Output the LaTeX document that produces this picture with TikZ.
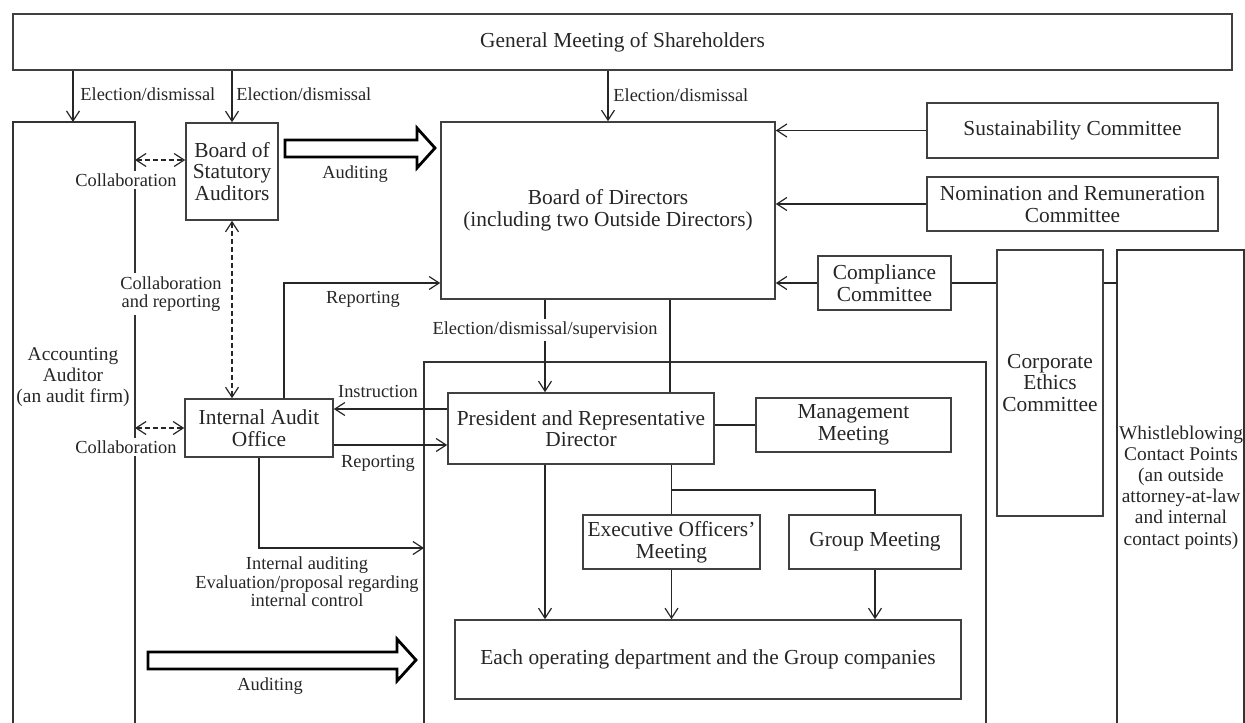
\documentclass[tikz,border=0pt]{standalone}
\usepackage{fontspec}
\setmainfont{Liberation Serif}
\usetikzlibrary{arrows.meta,calc}
\begin{document}
\begin{tikzpicture}[x=0.5pt,y=-0.5pt,
  every node/.style={font=\fontsize{10.7}{10.8}\selectfont, text=black!85},
  box/.style={draw=black!75, line width=0.8pt, inner sep=0pt, align=center},
  frm/.style={draw=black!80, line width=0.8pt},
  ln/.style={draw=black!85, line width=0.6pt},
  arr/.style={ln, -{Straight Barb[length=5pt,width=6.5pt]}},
  darr/.style={ln, dash pattern=on 2.5pt off 1.5pt, {Straight Barb[length=5pt,width=6.5pt]}-{Straight Barb[length=5pt,width=6.5pt]}},
  lab/.style={inner sep=1pt, font=\fontsize{9.2}{9.3}\selectfont, align=center},
  wlab/.style={lab, fill=white, inner sep=1.5pt},
  side/.style={align=center, font=\fontsize{9.7}{10.6}\selectfont},
  hollow/.style={draw=black, line width=1.4pt, fill=white, line join=miter}
]
\useasboundingbox (0,0) rectangle (1245,722);
\clip (0,0) rectangle (1245,722);

% ---------- boxes ----------
\node[box, minimum width=609.5pt, minimum height=28pt] (gm) at (622.5,42) {General Meeting of Shareholders};
\node[box, minimum width=46pt, minimum height=48.5pt] (bsa) at (232,171.5) {Board of\\Statutory\\Auditors};
\node[box, minimum width=167pt, minimum height=88.5pt] (bod) at (608,210.5) {Board of Directors\\(including two Outside Directors)};
\node[box, minimum width=145.5pt, minimum height=27.5pt] (sus) at (1072.5,130.5) {Sustainability Committee};
\node[box, minimum width=145.5pt, minimum height=27pt] (nom) at (1072.5,204) {Nomination and Remuneration\\Committee};
\node[box, minimum width=66.5pt, minimum height=27pt] (comp) at (884.5,283) {Compliance\\Committee};
\node[box, minimum width=53pt, minimum height=133pt] (eth) at (1050,383) {Corporate\\Ethics\\Committee};
\node[box, minimum width=74pt, minimum height=29pt] (iao) at (259,428) {Internal Audit\\Office};
\node[box, minimum width=133pt, minimum height=35.5pt] (pres) at (581,428.5) {President and Representative\\Director};
\node[box, minimum width=97.5pt, minimum height=27pt] (mgmt) at (853.5,425) {Management\\Meeting};
\node[box, minimum width=88.5pt, minimum height=27pt] (exec) at (671.5,542) {Executive Officers'\\Meeting};
\node[box, minimum width=86pt, minimum height=27pt] (grp) at (875,542) {Group Meeting};
\node[box, minimum width=253pt, minimum height=39.5pt] (dept) at (708,659.5) {Each operating department and the Group companies};

% open frames (continue below the picture)
\draw[frm] (13,740) -- (13,122) -- (135,122) -- (135,740);
\node[side] (acc) at (73,377) {Accounting\\Auditor\\(an audit firm)};
\draw[frm] (424,740) -- (424,362) -- (986,362) -- (986,740);
\draw[frm] (1117,740) -- (1117,250) -- (1244,250) -- (1244,740);
\node[side] (whis) at (1181,487.5) {Whistleblowing\\Contact Points\\(an outside\\attorney-at-law\\and internal\\contact points)};

% ---------- coordinates ----------
\coordinate (accT) at (73,122);
\coordinate (c1) at (135,160);
\coordinate (c2) at (135,428);
\coordinate (rp) at (284,283);
\coordinate (ins) at (0,409);
\coordinate (rep) at (0,445);
\coordinate (ia) at (424,548);
\coordinate (es) at (545,330);
\coordinate (bl) at (670,0);
\coordinate (br) at (0,490);
\coordinate (whL) at (1117,283);

% ---------- election arrows ----------
\draw[arr] (gm.south -| accT) -- (accT);
\node[lab, anchor=west] at (78,94) {Election/dismissal};
\draw[arr] (gm.south -| bsa.north) -- (bsa.north);
\node[lab, anchor=west] at (234,94) {Election/dismissal};
\draw[arr] (gm.south -| bod.north) -- (bod.north);
\node[lab, anchor=west] at (611,95) {Election/dismissal};

% ---------- collaboration ----------
\draw[darr] (c1) -- (c1 -| bsa.west);
\node[wlab] at (126,180) {Collaboration};
\draw[darr] (bsa.south) -- (bsa.south |- iao.north);
\node[wlab] at (171,294) {Collaboration\\and reporting};
\draw[darr] (c2) -- (iao.west);
\node[wlab] at (126,447) {Collaboration};

% ---------- auditing arrows ----------
\draw[hollow] (285,140) -- (417,140) -- (417,128) -- (435,148) -- (417,168) -- (417,157) -- (285,157) -- cycle;
\node[lab] at (355,174) {Auditing};
\draw[hollow] (148,652) -- (397,652) -- (397,639) -- (416,660) -- (397,681) -- (397,669) -- (148,669) -- cycle;
\node[lab] at (270,686) {Auditing};

% ---------- internal audit office ----------
\draw[arr] (iao.north -| rp) |- (bod.west |- rp);
\node[lab] at (363,299) {Reporting};
\draw[arr] (pres.west |- ins) -- (iao.east |- ins);
\node[lab] at (378,391) {Instruction};
\draw[arr] (iao.east |- rep) -- (pres.west |- rep);
\node[lab] at (378,463) {Reporting};
\draw[arr] (iao.south) |- (ia);
\node[lab] at (307,582) {Internal auditing\\Evaluation/proposal regarding\\internal control};

% ---------- board to executive ----------
\draw[arr] (bod.south -| es) -- (pres.north -| es);
\node[wlab] at (es) {Election/dismissal/supervision};
\draw[ln] (bod.south -| bl) -- (pres.north -| bl);
\draw[ln] (pres.east |- mgmt.west) -- (mgmt.west);
\draw[arr] (pres.south -| es) -- (dept.north -| es);
\draw[ln] (pres.south -| exec.north) -- (exec.north);
\draw[ln] (exec.north |- br) -| (grp.north);
\draw[arr] (exec.south) -- (exec.south |- dept.north);
\draw[arr] (grp.south) -- (grp.south |- dept.north);

% ---------- committees ----------
\draw[arr] (sus.west) -- (sus.west -| bod.east);
\draw[arr] (nom.west) -- (nom.west -| bod.east);
\draw[arr] (comp.west) -- (comp.west -| bod.east);
\draw[ln] (comp.east) -- (comp.east -| eth.west);
\draw[ln] (eth.east |- comp.east) -- (whL |- comp.east);
\end{tikzpicture}
\end{document}
